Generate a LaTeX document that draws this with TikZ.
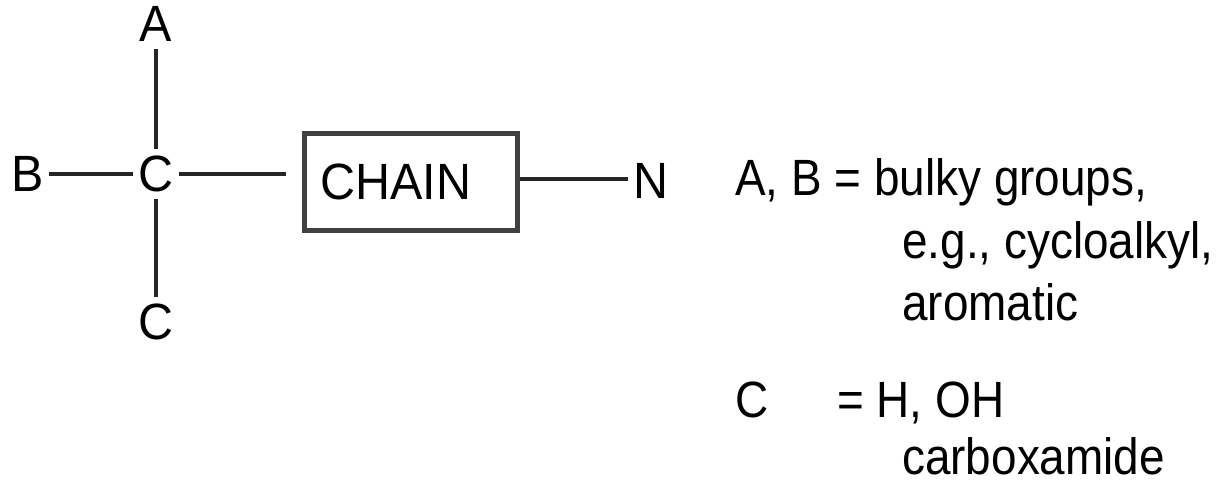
\documentclass[tikz,border=0pt]{standalone}
\usepackage{fontspec}
\setmainfont{Liberation Sans}[FakeStretch=0.95]
\newfontfamily\rfont{Liberation Sans}[FakeStretch=0.9]
\begin{document}
\begin{tikzpicture}[x=1pt,y=-1pt,
  atom/.style={inner xsep=5pt,inner ysep=7pt,font=\fontsize{51}{60}\selectfont},
  bond/.style={line width=3.5pt,black!85},
  desc/.style={anchor=base west,inner sep=0pt,font=\rfont\fontsize{51}{60}\selectfont},
  chainbox/.style={draw=black!75,line width=5pt,minimum width=213pt,minimum height=97pt,
    inner xsep=16pt,text width=181pt,align=left,font=\fontsize{51}{60}\selectfont}]
\useasboundingbox (0,0) rectangle (1225,482);
\node[atom] (A) at (156,24) {A};
\node[atom] (C0) at (156,174) {C};
\node[atom] (B) at (28,174) {B};
\node[atom] (Cb) at (156,322) {C};
\node[chainbox] (chain) at (411,181.5) {CHAIN};
\node[atom] (N) at (651,181) {N};
\draw[bond] (A) -- (C0);
\draw[bond] (C0) -- (Cb);
\draw[bond] (B) -- (C0);
\draw[bond,shorten >=16pt] (C0) -- (C0 -| chain.west);
\draw[bond] (chain.east |- 0,179) coordinate (ce) -- (N.west |- 0,179) coordinate (nw);
\node[desc] (t1) at (735,195) {A, B = bulky groups,};
\node[desc] (t2) at (902,258) {e.g., cycloalkyl,};
\node[desc] (t3) at (902,320) {aromatic};
\node[desc] (t4) at (735,417) {C};
\node[desc] (t5) at (837,417) {= H, OH};
\node[desc] (t6) at (902,474) {carboxamide};
\end{tikzpicture}
\end{document}
